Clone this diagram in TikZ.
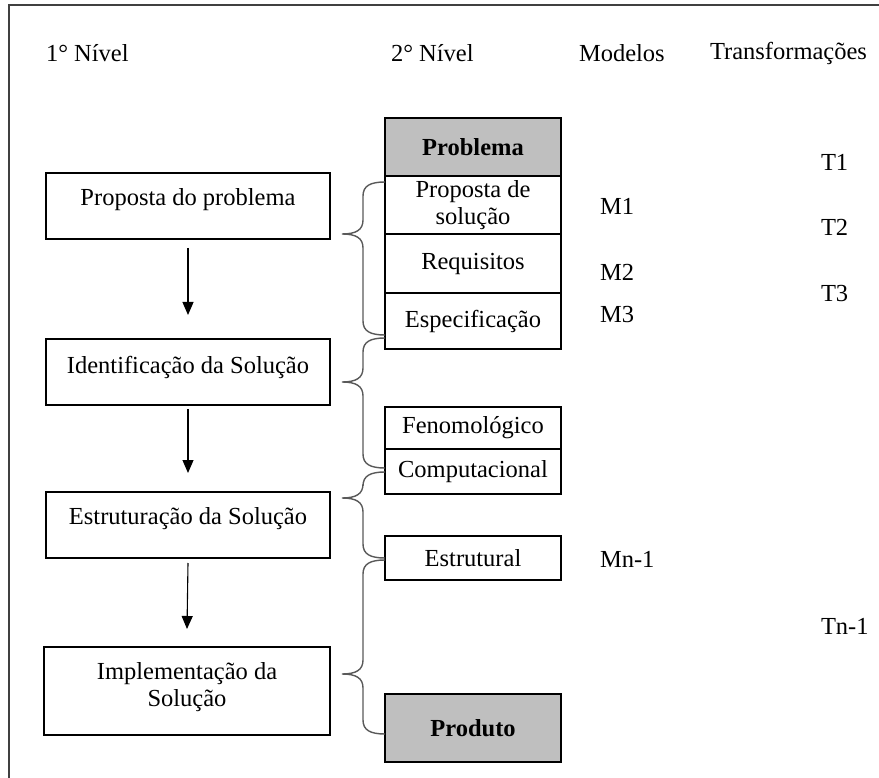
\documentclass[tikz,border=0pt]{standalone}
\usepackage{fontspec}
\setmainfont{Liberation Serif}
\usetikzlibrary{arrows.meta}
\begin{document}
\begin{tikzpicture}[x=1pt,y=-1pt,
  every node/.style={font=\fontsize{24.5}{26.5}\selectfont, inner sep=0pt, outer sep=0pt},
  lbox/.style={draw=black, line width=1.2pt, minimum width=284pt},
  rbox/.style={draw=black, line width=1.2pt, minimum width=176pt, align=center},
  gbox/.style={rbox, fill=gray!50!white},
  hdr/.style={anchor=west},
  lab/.style={anchor=west},
  flow/.style={line width=1.1pt, -{Triangle[width=11pt,length=13pt]}},
  brace/.style={draw=black!65, line width=1.4pt},
  frame/.style={draw=black!75, line width=1.8pt}
]
\useasboundingbox (0,0) rectangle (879,778);
\draw[frame] (9,790) -- (9,5) -- (890,5);

% headings
\node[hdr] (h1) at (46,53) {1° Nível};
\node[hdr] (h2) at (391,53) {2° Nível};
\node[hdr] (h3) at (579,53) {Modelos};
\node[hdr] (h4) at (710,53) {Transformações};

% left column
\node[lbox, minimum height=66pt, label={[yshift=6pt]center:Proposta do problema}] (b1) at (188,206) {};
\node[lbox, minimum height=66pt, label={[yshift=5pt]center:Identificação da Solução}] (b2) at (188,372) {};
\node[lbox, minimum height=66pt, label={[yshift=6pt]center:Estruturação da Solução}] (b3) at (188,525) {};
\node[lbox, minimum width=286pt, minimum height=88pt, label={[yshift=4pt, align=center]center:Implementação da\\Solução}] (b4) at (187,691) {};

\draw[flow] ([yshift=-9pt]b1.south) -- ([yshift=24pt]b2.north);
\draw[flow] ([yshift=-4pt]b2.south) -- ([yshift=19pt]b3.north);
\draw[flow] ([yshift=-5pt]b3.south) -- ([yshift=18pt]b4.north);

% right column
\node[gbox, minimum height=58pt] (r0) at (473,147) {\bfseries Problema};
\node[rbox, minimum height=58pt] (r1) at (473,205) {Proposta de\\solução};
\node[rbox, minimum height=59pt] (r2) at (473,263.5) {Requisitos};
\node[rbox, minimum height=56pt] (r3) at (473,321) {Especificação};
\node[rbox, minimum height=42pt] (r4) at (473,428) {Fenomológico};
\node[rbox, minimum height=45pt] (r5) at (473,471.5) {Computacional};
\node[rbox, minimum height=44pt] (r6) at (473,558) {Estrutural};
\node[gbox, minimum height=68pt] (r7) at (473,728) {\bfseries Produto};

% braces
\newcommand\mybrace[3]{%
  \draw[brace] (385,#1) .. controls (370,#1) and (363,#1+4) .. (363,#1+14)
    -- (363,#2-14) .. controls (363,#2-4) and (356,#2) .. (342,#2)
    .. controls (356,#2) and (363,#2+4) .. (363,#2+14)
    -- (363,#3-14) .. controls (363,#3-4) and (370,#3) .. (385,#3);}
\mybrace{182}{234}{335}
\mybrace{338}{382}{468}
\mybrace{472}{498}{558}
\mybrace{560}{674}{734}

% models
\node[lab] (m1) at (600,206) {M1};
\node[lab] (m2) at (600,272) {M2};
\node[lab] (m3) at (600,315) {M3};
\node[lab] (mn) at (600,559) {Mn-1};

% transformations
\node[lab] (t1) at (821,162) {T1};
\node[lab] (t2) at (821,227) {T2};
\node[lab] (t3) at (821,294) {T3};
\node[lab] (tn) at (821,626) {Tn-1};
\end{tikzpicture}
\end{document}
